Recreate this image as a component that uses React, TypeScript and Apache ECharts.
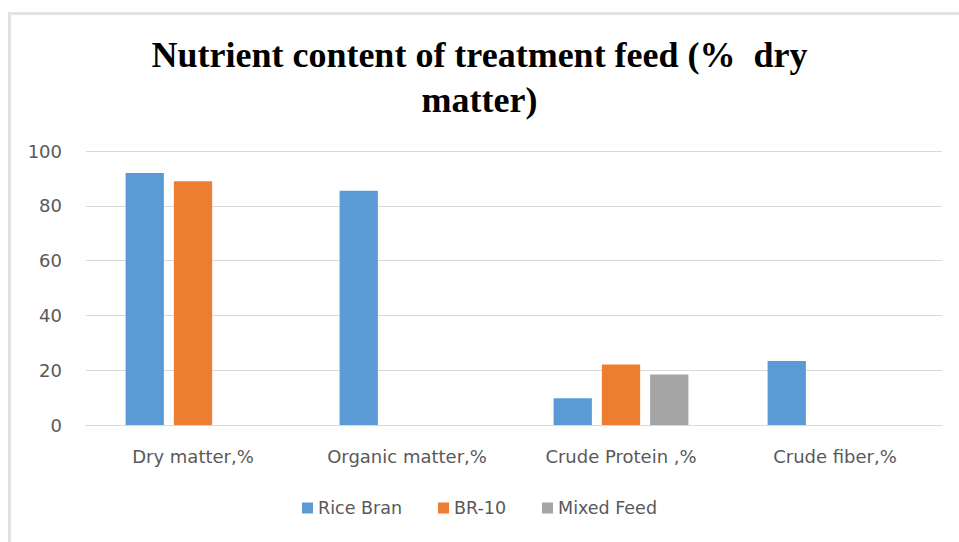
import React, { useEffect, useRef } from "react";
import * as echarts from "echarts";

const categories = ["Dry matter,%", "Organic matter,%", "Crude Protein ,%", "Crude fiber,%"];
const riceBran = [92, 85.5, 9.8, 23.4];
const br10 = [89, null, 22.1, null];
const mixedFeed = [null, null, 18.4, null];
const yTicks = { min: 0, max: 100, interval: 20 };
const titleText = "Nutrient content of treatment feed (%  dry\nmatter)";

export default function App() {
  const ref = useRef<HTMLDivElement>(null);
  useEffect(() => {
    const chart = echarts.init(ref.current!, null, { renderer: "svg" });
    const labelFont = "'DejaVu Sans', 'Noto Sans', sans-serif";
    chart.setOption({
      animation: false,
      backgroundColor: "#ffffff",
      title: {
        text: titleText,
        left: "center",
        top: 27,
        textStyle: {
          fontFamily: "'Liberation Serif', 'Times New Roman', serif",
          fontWeight: "bold",
          fontSize: 36,
          lineHeight: 45,
          color: "#000000",
        },
      },
      graphic: [
        {
          type: "polyline",
          shape: { points: [[9.5, 560], [9.5, 13.5], [970, 13.5]] },
          style: { stroke: "#e2e2e2", lineWidth: 3, fill: null },
          silent: true,
        },
      ],
      legend: {
        bottom: 20,
        left: "center",
        itemWidth: 11,
        itemHeight: 11,
        itemGap: 36,
        icon: "rect",
        textStyle: { fontFamily: labelFont, fontSize: 17.5, color: "#595959" },
        data: ["Rice Bran", "BR-10", "Mixed Feed"],
      },
      grid: { left: 86, right: 17, top: 151, bottom: 117, containLabel: false },
      xAxis: {
        type: "category",
        data: categories,
        axisLine: { show: true, lineStyle: { color: "#d9d9d9", width: 1 } },
        axisTick: { show: false },
        axisLabel: { fontFamily: labelFont, fontSize: 18, color: "#595959", margin: 22 },
      },
      yAxis: {
        type: "value",
        min: yTicks.min,
        max: yTicks.max,
        interval: yTicks.interval,
        axisLine: { show: false },
        axisTick: { show: false },
        splitLine: { lineStyle: { color: "#d9d9d9", width: 1 } },
        axisLabel: { fontFamily: labelFont, fontSize: 18, color: "#595959", margin: 24 },
      },
      series: [
        {
          name: "Rice Bran",
          type: "bar",
          data: riceBran,
          itemStyle: { color: "#5b9bd5" },
          barGap: "26%",
          barCategoryGap: "37%",
        },
        { name: "BR-10", type: "bar", data: br10, itemStyle: { color: "#ed7d31" } },
        { name: "Mixed Feed", type: "bar", data: mixedFeed, itemStyle: { color: "#a5a5a5" } },
      ],
    });
    return () => chart.dispose();
  }, []);
  return (
    <div
      ref={ref}
      style={{ position: "absolute", left: 0, top: 0, width: 959, height: 542 }}
    />
  );
}
